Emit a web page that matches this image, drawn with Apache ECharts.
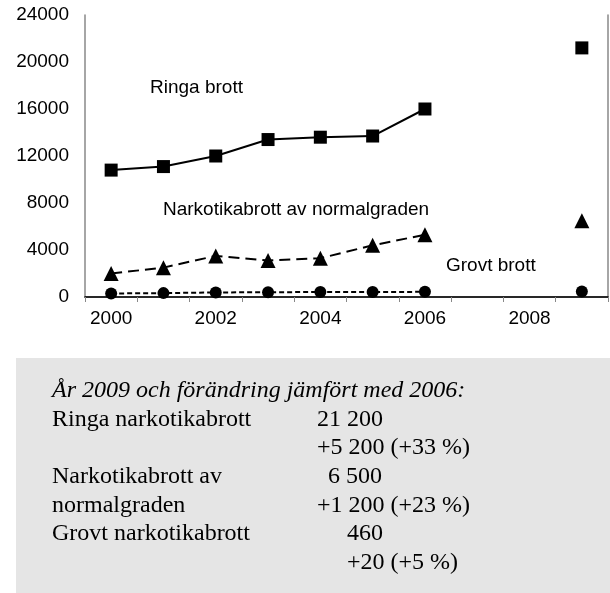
<!DOCTYPE html>
<html>
<head>
<meta charset="utf-8">
<script src="https://cdn.jsdelivr.net/npm/echarts@6/dist/echarts.min.js"></script>
<style>
html, body { margin: 0; padding: 0; background: #fff; }
#chart { width: 610px; height: 593px; }
</style>
</head>
<body>
<div id="chart"></div>
<script>
// år och värden
var years = ['2000', '2001', '2002', '2003', '2004', '2005', '2006', '2007', '2008', '2009'];
var ringa = [10800, 11100, 12000, 13400, 13600, 13700, 16000, null, null, 21200];
var normal = [2000, 2500, 3500, 3100, 3300, 4400, 5300, null, null, 6500];
var grovt = [300, 330, 390, 400, 430, 420, 440, null, null, 460];

// textrutan under diagrammet
var boxTitle = 'År 2009 och förändring jämfört med 2006:';
var boxNames = ['Ringa narkotikabrott', '', 'Narkotikabrott av', 'normalgraden', 'Grovt narkotikabrott', ''];
var boxValues = ['21 200', '+5 200 (+33 %)', '6 500', '+1 200 (+23 %)', '460', '+20 (+5 %)'];
var boxValueX = [317, 317, 328, 317, 347, 347];

var dom = document.getElementById('chart');
var myChart = echarts.init(dom);

var sans = 'Liberation Sans';
var serif = 'Liberation Serif';

var graphics = [
    {
        type: 'rect',
        shape: { x: 16, y: 358, width: 600, height: 240 },
        style: { fill: '#e5e5e5' },
        z: 0
    },
    {
        type: 'text',
        x: 52, y: 391,
        style: {
            text: boxTitle, fill: '#000', font: 'italic 24px ' + serif,
            textVerticalAlign: 'middle'
        }
    }
];
for (var i = 0; i < boxNames.length; i++) {
    var yy = 419.5 + i * 28.6;
    if (boxNames[i]) {
        graphics.push({
            type: 'text', x: 52, y: yy,
            style: { text: boxNames[i], fill: '#000', font: '24px ' + serif, textVerticalAlign: 'middle' }
        });
    }
    graphics.push({
        type: 'text', x: boxValueX[i], y: yy,
        style: { text: boxValues[i], fill: '#000', font: '24px ' + serif, textVerticalAlign: 'middle' }
    });
}

// etiketter i diagrammet
var labels = [
    { text: 'Ringa brott', x: 150, y: 88 },
    { text: 'Narkotikabrott av normalgraden', x: 163, y: 210 },
    { text: 'Grovt brott', x: 446, y: 266 }
];
labels.forEach(function (l) {
    graphics.push({
        type: 'text', x: l.x, y: l.y,
        style: { text: l.text, fill: '#000', font: '19px ' + sans, textVerticalAlign: 'middle' }
    });
});

var option = {
    animation: false,
    grid: { left: 85, right: 2, top: 15, bottom: 296 },
    xAxis: [
        {
            type: 'category',
            data: years,
            boundaryGap: true,
            axisLine: { lineStyle: { color: '#888', width: 1.5 } },
            axisTick: { show: true, interval: 0, length: 5, lineStyle: { color: '#888' } },
            axisLabel: {
                interval: 1, color: '#000', fontSize: 19, fontFamily: sans, margin: 12
            },
            splitLine: { show: false }
        },
        {
            type: 'category',
            data: years,
            position: 'top',
            axisLine: { lineStyle: { color: '#000', width: 1.5 } },
            axisTick: { show: false },
            axisLabel: { show: false }
        }
    ],
    yAxis: [
        {
            type: 'value',
            min: 0,
            max: 24000,
            interval: 4000,
            axisLine: { show: true, lineStyle: { color: '#888', width: 1.5 } },
            axisTick: { show: false },
            axisLabel: {
                color: '#000', fontSize: 19, fontFamily: sans, margin: 16,
                formatter: function (v) { return String(v); }
            },
            splitLine: { show: false }
        },
        {
            type: 'value',
            min: 0,
            max: 24000,
            interval: 4000,
            position: 'right',
            axisLine: { show: true, lineStyle: { color: '#888', width: 1.5 } },
            axisTick: { show: false },
            axisLabel: { show: false },
            splitLine: { show: false }
        }
    ],
    series: [
        {
            name: 'Ringa brott',
            type: 'line',
            data: ringa,
            connectNulls: false,
            symbol: 'rect',
            symbolSize: 13,
            lineStyle: { color: '#000', width: 2 },
            itemStyle: { color: '#000' }
        },
        {
            name: 'Narkotikabrott av normalgraden',
            type: 'line',
            data: normal,
            connectNulls: false,
            symbol: 'triangle',
            symbolSize: 15,
            lineStyle: { color: '#000', width: 2, type: [11, 6] },
            itemStyle: { color: '#000' }
        },
        {
            name: 'Grovt brott',
            type: 'line',
            data: grovt,
            connectNulls: false,
            symbol: 'circle',
            symbolSize: 12,
            lineStyle: { color: '#000', width: 2, type: [5, 3] },
            itemStyle: { color: '#000' }
        }
    ],
    graphic: graphics
};

if (option && typeof option === 'object') {
    myChart.setOption(option, true);
}
</script>
</body>
</html>
